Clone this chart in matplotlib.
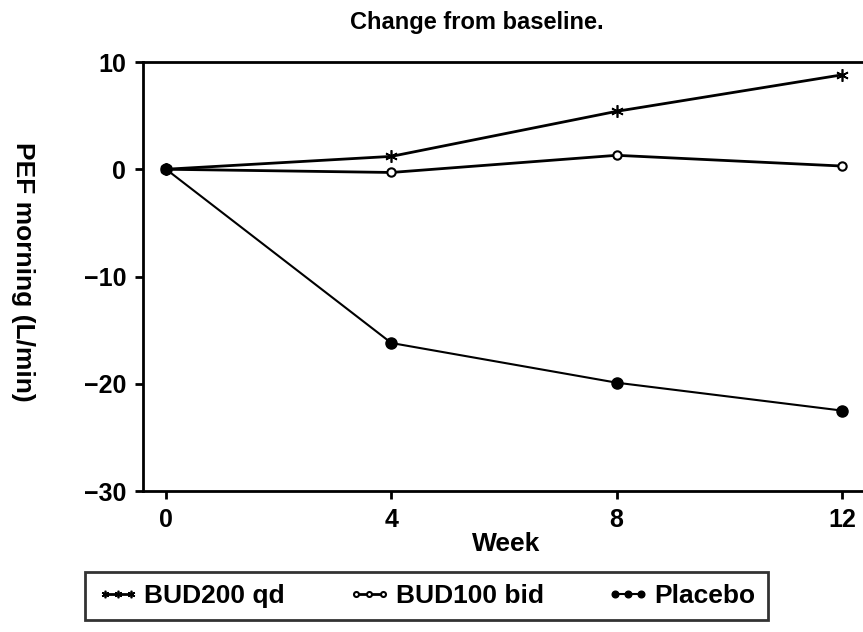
import matplotlib
matplotlib.use("Agg")
import matplotlib.pyplot as plt

weeks = [0, 4, 8, 12]
bud200 = [0, 1.2, 5.4, 8.8]
bud100 = [0, -0.3, 1.3, 0.3]
placebo = [0, -16.2, -19.9, -22.5]
labels = ["BUD200 qd", "BUD100 bid", "Placebo"]
yticks = [-30, -20, -10, 0, 10]

plt.rcParams['font.family'] = ['Liberation Sans', 'DejaVu Sans']
plt.rcParams['font.weight'] = 'bold'

fig = plt.figure(figsize=(8.63, 6.32), dpi=100)
ax = fig.add_axes([143/863, 1-491/632, (870-143)/863, (491-62)/632])

ax.plot(weeks, bud200, color='black', lw=2, marker=(6, 2, 0), ms=9, mew=1.2, label=labels[0])
ax.plot(weeks, bud100, color='black', lw=2, marker='o', ms=6, mfc='white', mew=1.5, label=labels[1])
ax.plot(weeks, placebo, color='black', lw=1.5, marker='o', ms=8, mfc='black', label=labels[2])

ax.set_xlim(-0.41, 12.5)
ax.set_ylim(-30, 10)
ax.set_xticks(weeks)
ax.set_yticks(yticks)
ax.set_yticklabels([f"\u2212{abs(v)}" if v < 0 else str(v) for v in yticks])
for s in ax.spines.values():
    s.set_linewidth(2)
ax.spines['right'].set_visible(False)
ax.tick_params(width=2, length=6, labelsize=18, direction='out', pad=6)
for t in ax.get_xticklabels() + ax.get_yticklabels():
    t.set_fontweight('heavy')

ax.set_xlabel("Week", fontsize=19, fontweight='heavy', labelpad=0)
ax.set_ylabel("PEF morning (L/min)", fontsize=19, fontweight='heavy', rotation=270)
ax.yaxis.set_label_coords(-0.165, 0.51)
ax.yaxis.label.set_va('center')
fig.text(477/863, 1-22/632, "Change from baseline.", ha='center', va='center', fontsize=17, fontweight='heavy')

leg = fig.legend(loc='center left', bbox_to_anchor=(85/863, 1-596/632),
                 ncol=3, numpoints=3, frameon=True, fancybox=False, edgecolor='black',
                 prop={'size': 19, 'weight': 'heavy'}, handlelength=1.6, handletextpad=0.2,
                 columnspacing=2.4, borderaxespad=0, markerscale=0.6,
                 borderpad=0.45)
leg.get_frame().set_linewidth(2)

fig.savefig("out.png", dpi=100)
